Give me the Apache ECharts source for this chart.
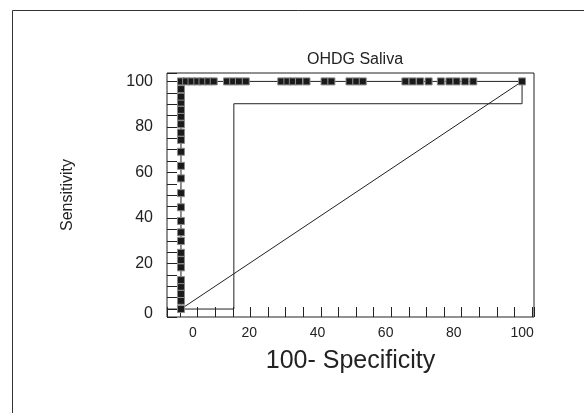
<!DOCTYPE html>
<html><head><meta charset="utf-8">
<script src="https://cdn.jsdelivr.net/npm/echarts@6/dist/echarts.min.js"></script>
<style>html,body{margin:0;padding:0;background:#fff}#c{width:584px;height:413px}</style>
</head><body><div id="c"></div>
<script>
const chartTitle = 'OHDG Saliva';
const xName = '100- Specificity';
const yName = 'Sensitivity';
const xTickLabels = [0, 20, 40, 60, 80, 100];
const yTickLabels = [0, 20, 40, 60, 80, 100];
// ROC points: vertical part at 100-specificity = 0
const sensAtZero = [0, 3.6, 6.6, 9.8, 12.7, 18.3, 21.5, 24.7, 29.9, 33.7, 38.7, 44.7, 50.9, 57.4, 62.9, 69.1, 74.3, 77.5, 81.2, 84.5, 87.5, 90.7, 93.3, 96.6];
// ROC points: horizontal part at sensitivity = 100
const fprAtFull = [0, 1.5, 3.1, 4.8, 6.3, 8.0, 9.6, 13.5, 15.3, 17.0, 19.0, 29.4, 31.2, 32.8, 34.6, 36.8, 42.1, 44.1, 49.4, 51.4, 53.3, 65.8, 67.9, 70.1, 72.6, 76.2, 78.7, 80.8, 83.3, 85.7, 100];
// confidence bound step line
const ciX = [-4.1, 15.5, 15.5, 100, 100];
const ciY = [0, 0, 90.2, 90.2, 100];
// reference diagonal
const diagX = [0, 100];
const diagY = [0, 100];

const FONT = 'Liberation Sans, Arial, Helvetica, sans-serif';
const INK = '#222';

const rocData = sensAtZero.map(v => [0, v]).concat(fprAtFull.map(v => [v, 100]));
const ciData = ciX.map((x, i) => [x, ciY[i]]);
const diagData = diagX.map((x, i) => [x, diagY[i]]);

const chart = echarts.init(document.getElementById('c'), null, {renderer: 'canvas'});
chart.setOption({
  animation: false,
  backgroundColor: '#fff',
  textStyle: {fontFamily: FONT},
  title: {text: chartTitle, left: 302, top: 47,
    textStyle: {fontFamily: FONT, fontSize: 16, fontWeight: 'normal', color: INK}},
  graphic: [{type: 'rect', left: 10, top: 8, shape: {width: 600, height: 430},
    style: {fill: 'none', stroke: '#333', lineWidth: 1}, silent: true}],
  grid: {left: 167, top: 73, right: 50, bottom: 96, show: true, borderColor: INK, borderWidth: 1, containLabel: false},
  xAxis: [
    {type: 'value', min: -4.1, max: 103.5, minInterval: 20, maxInterval: 20, position: 'bottom',
     axisLine: {show: false, onZero: false}, axisTick: {show: false}, splitLine: {show: false},
     axisLabel: {showMinLabel: true, showMaxLabel: true, fontSize: 14, color: INK, margin: 9, fontFamily: FONT,
       formatter: v => xTickLabels.indexOf(v) < 0 ? '' : (v === 0 ? '{s|0}' : String(v)),
       rich: {s: {padding: [0, 0, 0, 24], fontSize: 14, color: INK, fontFamily: FONT}}},
     name: xName, nameLocation: 'middle', nameGap: 32,
     nameTextStyle: {fontSize: 25, color: INK, fontFamily: FONT}},
    {type: 'value', min: -3.69, max: 100.57, minInterval: 5, maxInterval: 5, position: 'bottom',
     axisLine: {show: false, onZero: false}, axisLabel: {show: false}, splitLine: {show: false},
     axisTick: {show: true, inside: true, length: 10, lineStyle: {color: INK, width: 1}}}
  ],
  yAxis: [
    {type: 'value', min: -3.5, max: 103.7, minInterval: 20, maxInterval: 20, position: 'left',
     axisLine: {show: false, onZero: false}, axisTick: {show: false}, splitLine: {show: false},
     axisLabel: {showMinLabel: true, showMaxLabel: true, fontSize: 16, color: INK, margin: 14, fontFamily: FONT,
       formatter: v => yTickLabels.indexOf(v) < 0 ? '' : (v === 0 ? '{t|0}' : String(v)),
       rich: {t: {padding: [10, 0, 0, 0], fontSize: 16, color: INK, fontFamily: FONT}}},
     name: yName, nameLocation: 'middle', nameGap: 91,
     nameTextStyle: {fontSize: 16, color: INK, fontFamily: FONT}},
    {type: 'value', min: -3.5, max: 103.7, minInterval: 5, maxInterval: 5, position: 'left',
     axisLine: {show: false, onZero: false}, axisLabel: {show: false}, splitLine: {show: false},
     axisTick: {show: true, inside: true, length: 10, lineStyle: {color: INK, width: 1}}}
  ],
  series: [
    {type: 'line', xAxisIndex: 0, yAxisIndex: 0, data: diagData, symbol: 'none',
     lineStyle: {color: INK, width: 1}, silent: true},
    {type: 'line', xAxisIndex: 0, yAxisIndex: 0, data: ciData, symbol: 'none',
     lineStyle: {color: INK, width: 1}, silent: true},
    {type: 'line', xAxisIndex: 0, yAxisIndex: 0, data: rocData, symbol: 'rect', symbolSize: 7,
     itemStyle: {color: '#1a1a1a', borderColor: '#8a8a8a', borderWidth: 1},
     lineStyle: {color: INK, width: 1}, silent: true}
  ]
});
</script>
</body></html>
